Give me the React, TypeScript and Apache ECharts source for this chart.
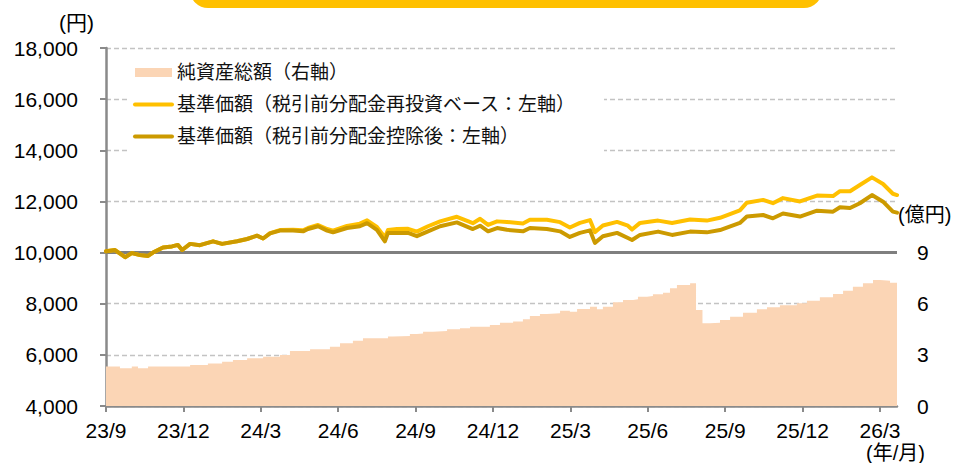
import React, { useEffect, useRef } from "react";
import * as echarts from "echarts";

// x positions are months elapsed since the start of Sep 2023
const tickMonths = [0, 3, 6, 9, 12, 15, 18, 21, 24, 27, 30];
const tickLabels = ["23/9", "23/12", "24/3", "24/6", "24/9", "24/12", "25/3", "25/6", "25/9", "25/12", "26/3"];

const navMonths = [0, 0.35, 0.74, 1.0, 1.32, 1.63, 1.82, 2.21, 2.56, 2.79, 2.95, 3.26, 3.64, 4.15, 4.5, 5.08, 5.47, 5.85, 6.09, 6.36, 6.74, 7.25, 7.64, 7.83, 8.22, 8.57, 8.8, 9.34, 9.84, 10.12, 10.5, 10.81, 10.93, 11.28, 11.71, 12.05, 12.48, 12.95, 13.6, 14.22, 14.5, 14.81, 15.16, 15.54, 16.16, 16.43, 17.09, 17.6, 17.98, 18.37, 18.76, 18.95, 19.26, 19.81, 20.23, 20.39, 20.7, 21.4, 21.94, 22.64, 23.29, 23.8, 24.57, 24.84, 25.47, 25.85, 26.24, 26.9, 27.56, 28.18, 28.45, 28.84, 29.22, 29.69, 30.12, 30.5, 30.66];

const navReinvest = [10050, 10100, 9820, 9980, 9900, 9870, 10000, 10200, 10240, 10300, 10100, 10340, 10290, 10440, 10340, 10440, 10530, 10660, 10550, 10760, 10880, 10890, 10870, 10960, 11080, 10920, 10860, 11040, 11130, 11260, 11000, 10600, 10880, 10920, 10930, 10820, 11030, 11220, 11400, 11150, 11320, 11080, 11220, 11200, 11140, 11280, 11280, 11190, 10980, 11160, 11270, 10800, 11060, 11200, 11050, 10900, 11160, 11250, 11160, 11290, 11250, 11360, 11650, 11950, 12060, 11930, 12130, 12000, 12230, 12210, 12400, 12400, 12640, 12940, 12680, 12300, 12250];

const navAfterDist = [10050, 10100, 9820, 9980, 9900, 9870, 10000, 10200, 10240, 10300, 10100, 10340, 10290, 10440, 10340, 10440, 10530, 10660, 10550, 10750, 10860, 10860, 10830, 10920, 11030, 10860, 10790, 10960, 11030, 11150, 10890, 10440, 10770, 10770, 10770, 10640, 10830, 11030, 11180, 10920, 11050, 10830, 10960, 10890, 10830, 10960, 10920, 10830, 10610, 10770, 10870, 10380, 10640, 10770, 10570, 10490, 10690, 10820, 10690, 10820, 10790, 10880, 11160, 11410, 11470, 11340, 11530, 11410, 11640, 11600, 11770, 11740, 11930, 12250, 11990, 11600, 11560];

const assetMonths = [0, 0.54, 1.0, 1.24, 1.63, 3.26, 3.95, 4.5, 4.92, 5.47, 6.09, 6.74, 7.13, 7.91, 8.68, 9.07, 9.57, 9.96, 10.74, 10.93, 11.12, 11.78, 12.05, 12.29, 12.67, 13.22, 13.72, 14.11, 14.88, 15.27, 15.78, 16.16, 16.43, 16.82, 17.09, 17.6, 17.98, 18.26, 18.76, 19.03, 19.26, 19.65, 20.04, 20.43, 20.62, 20.97, 21.2, 21.59, 21.86, 22.13, 22.64, 22.87, 23.12, 23.41, 23.8, 24.19, 24.69, 25.23, 25.62, 26.12, 26.78, 27.17, 27.67, 28.18, 28.57, 28.95, 29.34, 29.73, 30.0, 30.39, 30.66];

const assetValues = [2.31, 2.21, 2.31, 2.21, 2.31, 2.41, 2.5, 2.6, 2.7, 2.8, 2.89, 2.99, 3.23, 3.33, 3.48, 3.68, 3.83, 3.97, 3.97, 4.07, 4.11, 4.22, 4.26, 4.36, 4.4, 4.5, 4.56, 4.65, 4.75, 4.89, 4.95, 5.09, 5.28, 5.4, 5.44, 5.59, 5.53, 5.69, 5.82, 5.67, 5.82, 6.08, 6.22, 6.26, 6.41, 6.45, 6.55, 6.65, 6.9, 7.1, 7.2, 5.63, 4.85, 4.89, 5.04, 5.24, 5.47, 5.67, 5.79, 5.91, 6.02, 6.18, 6.38, 6.57, 6.76, 7.0, 7.2, 7.39, 7.35, 7.23, 7.2];

const leftTicks = { min: 4000, max: 18000, interval: 2000 };
const rightTicks = { min: 0, max: 21, interval: 3, shownMax: 9 };
const xMax = 30.66;

const nameAsset = "純資産総額（右軸）";
const nameReinvest = "基準価額（税引前分配金再投資ベース：左軸）";
const nameDist = "基準価額（税引前分配金控除後：左軸）";

const FONT = "'Liberation Sans', Arial, 'Noto Sans CJK JP', sans-serif";

export default function App() {
  const ref = useRef<HTMLDivElement>(null);
  useEffect(() => {
    if (!ref.current) return;
    document.body.style.margin = "0";
    const chart = echarts.init(ref.current, null, { renderer: "svg" });
    const pair = (xs: number[], ys: number[]) => xs.map((x, i) => [x, ys[i]]);
    const gray = "#8a8a8a";
    const legendLine = (name: string, color: string) => ({
      name,
      itemStyle: { opacity: 0 },
      lineStyle: { width: 4, color, cap: "round" },
    });
    chart.setOption({
      animation: false,
      textStyle: { fontFamily: FONT, color: "#000" },
      grid: { left: 106, right: 63, top: 48, bottom: 57 },
      legend: {
        orient: "vertical",
        left: 128,
        top: 58,
        itemWidth: 37,
        itemHeight: 9,
        itemGap: 13,
        padding: [5, 28, 6, 5],
        backgroundColor: "#ffffff",
        textStyle: { fontSize: 19, color: "#111", fontFamily: FONT },
        data: [
          { name: nameAsset, icon: "rect" },
          legendLine(nameReinvest, "#FFC000"),
          legendLine(nameDist, "#CC9A00"),
        ],
      },
      xAxis: {
        type: "value",
        min: 0,
        max: xMax,
        interval: 3,
        axisLine: { show: true, lineStyle: { color: gray, width: 2.5 } },
        axisTick: { show: true, length: 6, customValues: tickMonths, lineStyle: { color: gray, width: 2 } },
        axisLabel: {
          customValues: tickMonths,
          fontSize: 21,
          margin: 14,
          color: "#000",
          formatter: (v: number) => {
            const i = tickMonths.indexOf(Math.round(v * 100) / 100);
            return i >= 0 ? tickLabels[i] : "";
          },
        },
        splitLine: { show: false },
      },
      yAxis: [
        {
          type: "value",
          min: leftTicks.min,
          max: leftTicks.max,
          interval: leftTicks.interval,
          axisLine: { show: true, lineStyle: { color: gray, width: 2.5 } },
          axisTick: { show: true, length: 6, lineStyle: { color: gray, width: 2 } },
          axisLabel: {
            fontSize: 21,
            margin: 28,
            color: "#000",
            formatter: (v: number) => v.toLocaleString("en-US"),
          },
          splitLine: { show: true, lineStyle: { color: "#c3c3c3", width: 1.3, type: [5, 3] } },
        },
        {
          type: "value",
          min: rightTicks.min,
          max: rightTicks.max,
          interval: rightTicks.interval,
          axisLine: { show: false },
          axisTick: { show: false },
          axisLabel: {
            fontSize: 21,
            margin: 20,
            color: "#000",
            formatter: (v: number) => (v <= rightTicks.shownMax ? String(v) : ""),
          },
          splitLine: { show: false },
        },
      ],
      series: [
        {
          name: nameAsset,
          type: "line",
          yAxisIndex: 1,
          step: "end",
          symbol: "none",
          lineStyle: { width: 0, color: "#FBD5B5" },
          itemStyle: { color: "#FBD5B5" },
          areaStyle: { color: "#FBD5B5", opacity: 1 },
          data: pair(assetMonths, assetValues),
          z: 1,
        },
        {
          name: nameReinvest,
          type: "line",
          symbol: "none",
          lineStyle: { width: 4, color: "#FFC000", cap: "round", join: "round" },
          itemStyle: { color: "#FFC000" },
          data: pair(navMonths, navReinvest),
          z: 3,
          markLine: {
            silent: true,
            symbol: "none",
            label: { show: false },
            lineStyle: { color: "#7f7f7f", width: 3, type: "solid" },
            data: [{ yAxis: 10000 }],
            z: 2,
          },
        },
        {
          name: nameDist,
          type: "line",
          symbol: "none",
          lineStyle: { width: 4, color: "#CC9A00", cap: "round", join: "round" },
          itemStyle: { color: "#CC9A00" },
          data: pair(navMonths, navAfterDist),
          z: 4,
        },
      ],
      graphic: [
        {
          type: "rect",
          shape: { x: 190, y: -40, width: 632, height: 48, r: 18 },
          style: { fill: "#FFC000" },
          z: 10,
        },
        {
          type: "text",
          left: 59,
          top: 12,
          style: { text: "(円)", font: `21px ${FONT}`, fill: "#000" },
        },
        {
          type: "text",
          left: 898,
          top: 205,
          style: { text: "(億円)", font: `20px ${FONT}`, fill: "#000" },
        },
        {
          type: "text",
          left: 866,
          top: 443,
          style: { text: "(年/月)", font: `20px ${FONT}`, fill: "#000" },
        },
      ],
    });
    return () => chart.dispose();
  }, []);
  return <div ref={ref} style={{ width: 960, height: 463 }} />;
}
